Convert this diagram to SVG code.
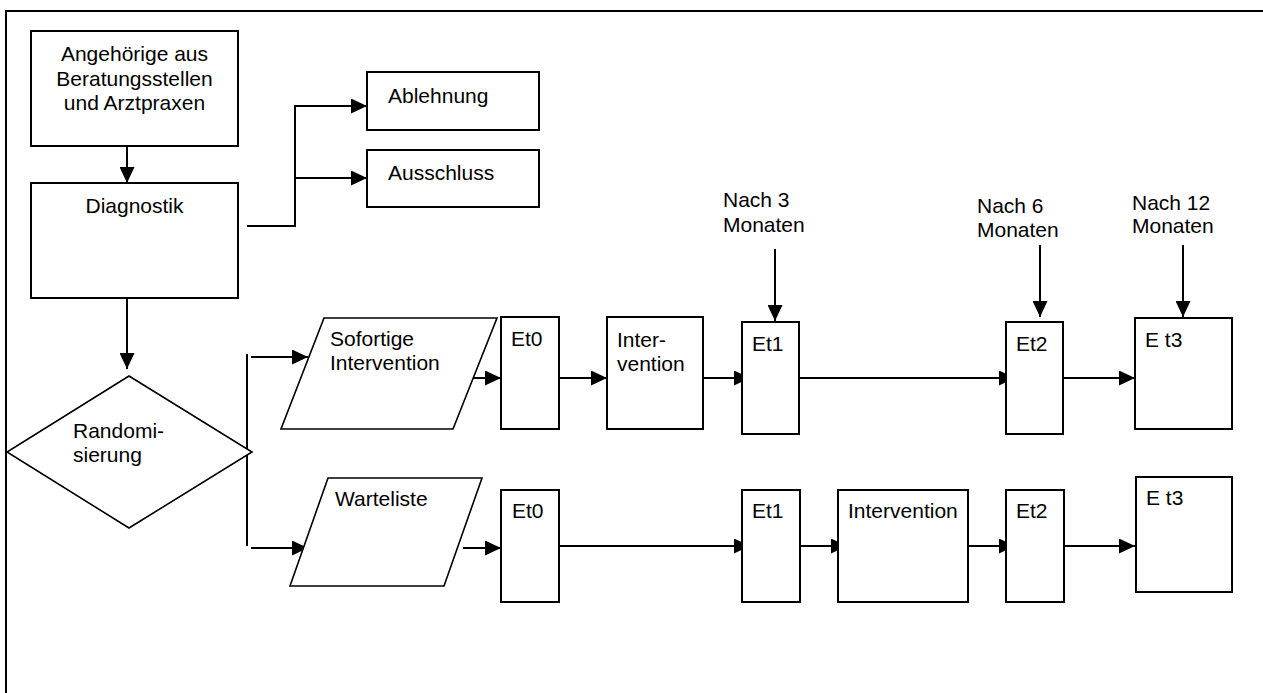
<svg xmlns="http://www.w3.org/2000/svg" width="1263" height="693" viewBox="0 0 1263 693">
<defs>
<marker id="ah" markerUnits="userSpaceOnUse" markerWidth="16" markerHeight="15" refX="16" refY="7.5" orient="auto" viewBox="0 0 16 15">
<path d="M0,0 L16,7.5 L0,15 z" fill="#000"/>
</marker>
</defs>
<style>
.box{fill:#fff;stroke:#000;stroke-width:2}
.shape{fill:#fff;stroke:#000;stroke-width:1.6}
.t{font-family:"Liberation Sans",Arial,sans-serif;font-size:21px;fill:#000}
.c{text-anchor:middle}
.ln{fill:none;stroke:#000;stroke-width:2}
.ar{fill:none;stroke:#000;stroke-width:2;marker-end:url(#ah)}
</style>
<rect x="0" y="0" width="1263" height="693" fill="#fff"/>
<path d="M6,700 V11 H1270" fill="none" stroke="#000" stroke-width="2"/>

<g id="connectors">
<path class="ar" d="M127,146 V183"/>
<path class="ar" d="M247,226 H295 V106 H367"/>
<path class="ar" d="M295,178 H367"/>
<path class="ar" d="M127,298 V369"/>
<path class="ln" d="M247,354 V546"/>
<path class="ar" d="M251,357 H308"/>
<path class="ar" d="M251,548 H308"/>
<path class="ar" d="M463,378 H501"/>
<path class="ar" d="M559,378 H607"/>
<path class="ar" d="M703,378 H750"/>
<path class="ar" d="M799,378 H1015"/>
<path class="ar" d="M1063,378 H1135"/>
<path class="ar" d="M775,249 V321"/>
<path class="ar" d="M1040,245 V317"/>
<path class="ar" d="M1183,245 V317"/>
<path class="ar" d="M463,548 H501"/>
<path class="ar" d="M559,546 H750"/>
<path class="ar" d="M800,546 H847"/>
<path class="ar" d="M968,546 H1015"/>
<path class="ar" d="M1064,546 H1135"/>
</g>

<g id="angehoerige">
<rect class="box" x="31" y="31" width="207" height="115"/>
<text class="t c" x="134.5" y="61">Angehörige aus</text>
<text class="t c" x="134.5" y="85.5">Beratungsstellen</text>
<text class="t c" x="134.5" y="110">und Arztpraxen</text>
</g>
<g id="diagnostik">
<rect class="box" x="31" y="183" width="207" height="115"/>
<text class="t c" x="134.5" y="213">Diagnostik</text>
</g>
<g id="ablehnung">
<rect class="box" x="367" y="72" width="172" height="58"/>
<text class="t" x="388" y="103">Ablehnung</text>
</g>
<g id="ausschluss">
<rect class="box" x="367" y="150" width="172" height="57"/>
<text class="t" x="388" y="180">Ausschluss</text>
</g>
<g id="randomisierung">
<polygon class="shape" points="129,376 252,452 129,528 7,452"/>
<text class="t" x="73" y="438">Randomi-</text>
<text class="t" x="73" y="462">sierung</text>
</g>
<g id="sofortige">
<polygon class="shape" points="324,318 497,318 453,429 281,429"/>
<text class="t" x="330" y="346">Sofortige</text>
<text class="t" x="330" y="370">Intervention</text>
</g>
<g id="warteliste">
<polygon class="shape" points="328,478 482,478 444,586 290,586"/>
<text class="t" x="335" y="506">Warteliste</text>
</g>
<g id="et0a">
<rect class="box" x="501" y="317" width="58" height="112"/>
<text class="t" x="511" y="346">Et0</text>
</g>
<g id="intervention-a">
<rect class="box" x="607" y="317" width="96" height="112"/>
<text class="t" x="617" y="347">Inter-</text>
<text class="t" x="617" y="371">vention</text>
</g>
<g id="et1a">
<rect class="box" x="742" y="322" width="57" height="112"/>
<text class="t" x="752" y="351">Et1</text>
</g>
<g id="et2a">
<rect class="box" x="1006" y="322" width="57" height="112"/>
<text class="t" x="1016" y="351">Et2</text>
</g>
<g id="et3a">
<rect class="box" x="1135" y="318" width="97" height="111"/>
<text class="t" x="1145" y="347">E t3</text>
</g>
<g id="nach3">
<text class="t" x="723" y="207">Nach 3</text>
<text class="t" x="723" y="232">Monaten</text>
</g>
<g id="nach6">
<text class="t" x="977" y="213">Nach 6</text>
<text class="t" x="977" y="237">Monaten</text>
</g>
<g id="nach12">
<text class="t" x="1132" y="210">Nach 12</text>
<text class="t" x="1132" y="233">Monaten</text>
</g>
<g id="et0b">
<rect class="box" x="501" y="490" width="58" height="112"/>
<text class="t" x="512" y="518">Et0</text>
</g>
<g id="et1b">
<rect class="box" x="742" y="490" width="58" height="112"/>
<text class="t" x="752" y="518">Et1</text>
</g>
<g id="intervention-b">
<rect class="box" x="838" y="490" width="130" height="112"/>
<text class="t" x="848" y="518">Intervention</text>
</g>
<g id="et2b">
<rect class="box" x="1006" y="490" width="58" height="112"/>
<text class="t" x="1016" y="518">Et2</text>
</g>
<g id="et3b">
<rect class="box" x="1136" y="477" width="96" height="115"/>
<text class="t" x="1146" y="505">E t3</text>
</g>
</svg>
